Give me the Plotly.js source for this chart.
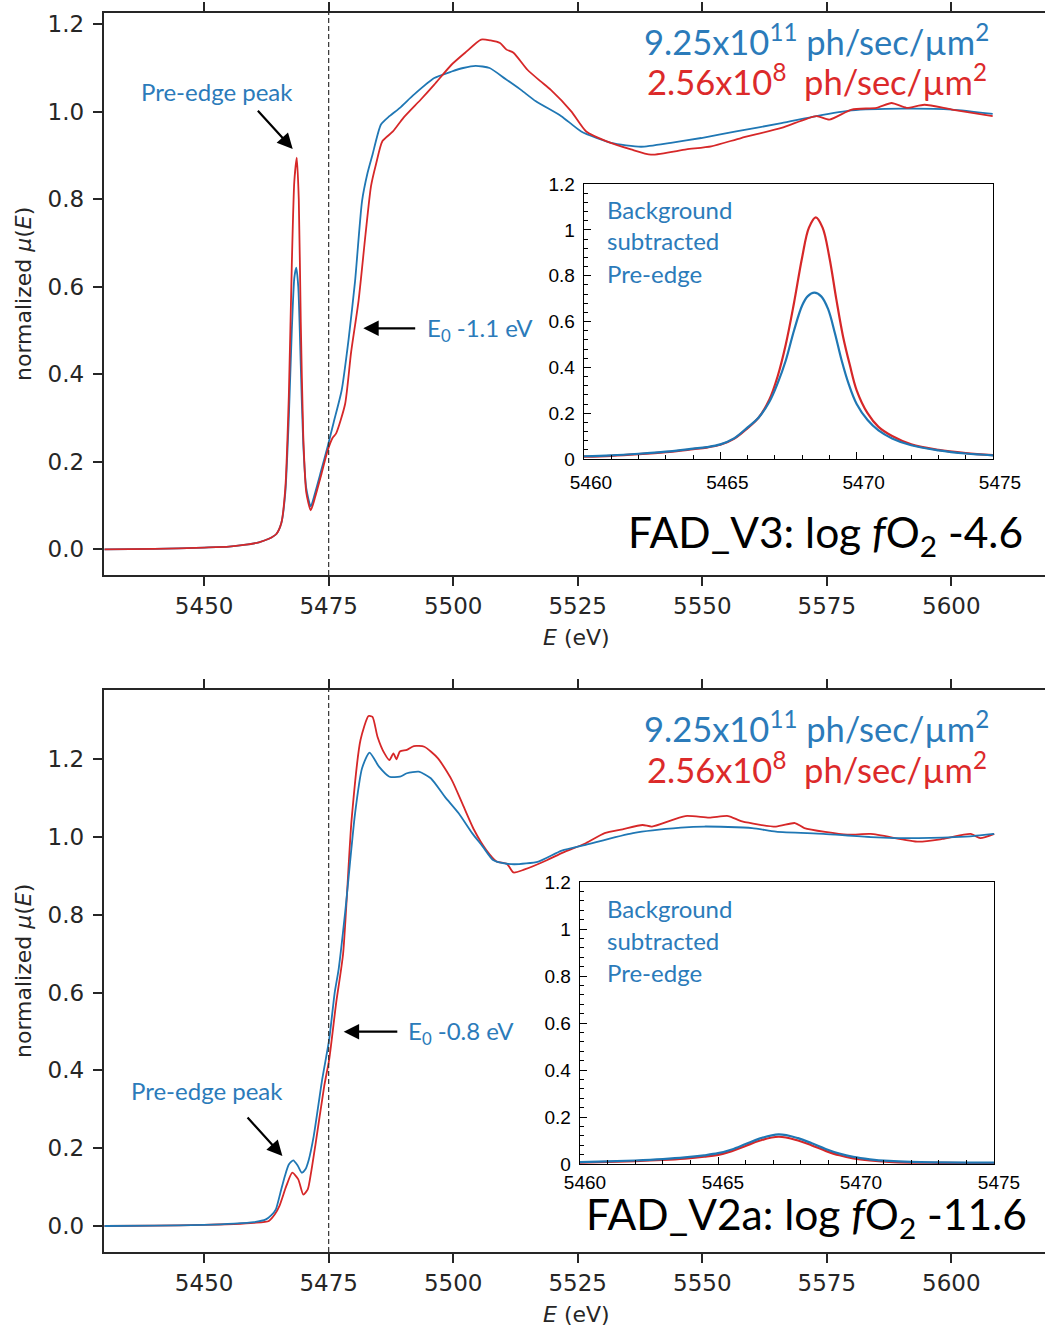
<!DOCTYPE html>
<html>
<head>
<meta charset="utf-8">
<script src="https://cdn.plot.ly/plotly-3.0.1.min.js"></script>
<style>html,body{margin:0;padding:0;background:#fff;}#plot{width:1045px;height:1329px;}</style>
</head>
<body>
<div id="plot"></div>
<script>
// ---------- DATA ----------
// Panel 1: FAD_V3, main spectrum
const v3BlueE  = [5430,5440,5450,5455,5458,5461,5463,5464.5,5465.5,5466.3,5467.0,5467.6,5468.1,5468.5,5468.9,5469.4,5469.9,5470.5,5471.4,5472.3,5473.5,5474.8,5476.0,5477.6,5479.0,5480.3,5481.7,5482.8,5483.8,5485.5,5487.2,5489.3,5492.1,5496.2,5499.7,5502.0,5504.5,5507.3,5510.5,5513.6,5516.6,5521.7,5525.7,5531.7,5537.7,5543.7,5549.8,5556.8,5565.9,5572.9,5580.0,5590.0,5600.1,5608.3];
const v3BlueMu = [0.0,0.001,0.004,0.006,0.010,0.016,0.024,0.035,0.06,0.13,0.30,0.50,0.62,0.644,0.60,0.42,0.24,0.14,0.098,0.13,0.18,0.235,0.29,0.363,0.48,0.613,0.796,0.86,0.902,0.971,0.99,1.009,1.039,1.077,1.092,1.10,1.105,1.10,1.075,1.05,1.024,0.99,0.955,0.929,0.92,0.929,0.94,0.955,0.974,0.99,1.003,1.007,1.005,0.995];
const v3RedE   = [5430,5440,5450,5455,5458,5461,5463,5464.5,5465.5,5466.3,5467.0,5467.6,5468.1,5468.6,5469.0,5469.4,5469.9,5470.5,5471.4,5472.3,5473.5,5474.8,5475.8,5476.5,5478.3,5479.5,5481.0,5482.4,5483.5,5484.5,5485.8,5487.9,5490.0,5493.5,5496.2,5499.7,5502.4,5505.6,5507.5,5509.4,5510.7,5512.1,5514.9,5517.5,5519.6,5523.7,5526.7,5530.7,5535.7,5539.7,5546.8,5551.8,5557.8,5565.9,5572.9,5575.5,5580.0,5585.0,5588.0,5591.0,5594.6,5600.1,5608.3];
const v3RedMu  = [0.0,0.001,0.004,0.006,0.010,0.016,0.024,0.035,0.06,0.14,0.35,0.65,0.84,0.895,0.80,0.52,0.26,0.13,0.089,0.12,0.17,0.226,0.255,0.265,0.332,0.45,0.568,0.72,0.83,0.88,0.933,0.955,0.986,1.028,1.062,1.108,1.135,1.165,1.163,1.157,1.142,1.135,1.096,1.07,1.05,1.001,0.955,0.933,0.914,0.902,0.914,0.921,0.94,0.963,0.99,0.982,1.005,1.009,1.02,1.009,1.016,1.005,0.99];

// Panel 1 inset: background-subtracted pre-edge
const v3InsBlueE  = [5460,5461,5462,5463,5464,5464.5,5465,5465.5,5466,5466.4,5466.8,5467.1,5467.4,5467.7,5468.0,5468.2,5468.45,5468.7,5468.95,5469.2,5469.45,5469.7,5470.0,5470.4,5470.8,5471.3,5472,5473,5474,5475];
const v3InsBlueMu = [0.012,0.016,0.023,0.032,0.045,0.052,0.064,0.09,0.138,0.18,0.25,0.33,0.43,0.56,0.67,0.71,0.726,0.71,0.655,0.55,0.43,0.33,0.24,0.17,0.125,0.09,0.06,0.038,0.024,0.016];
const v3InsRedE   = [5460,5461,5462,5463,5464,5464.5,5465,5465.5,5466,5466.4,5466.8,5467.1,5467.4,5467.7,5468.0,5468.25,5468.5,5468.75,5469.0,5469.25,5469.5,5469.75,5470.0,5470.4,5470.8,5471.3,5472,5473,5474,5475];
const v3InsRedMu  = [0.010,0.014,0.021,0.030,0.043,0.050,0.062,0.088,0.135,0.18,0.26,0.36,0.50,0.68,0.88,1.01,1.055,1.01,0.88,0.70,0.535,0.41,0.30,0.20,0.14,0.10,0.064,0.04,0.026,0.017];

// Panel 2: FAD_V2a, main spectrum
const v2BlueE  = [5430,5440,5450,5456,5460,5462.4,5463.5,5464.4,5465.3,5466.2,5467.0,5467.9,5468.8,5469.6,5470.3,5471.0,5472.0,5473.7,5475.1,5476.2,5477.0,5478.3,5480.3,5481.7,5483.2,5485.1,5487.2,5489.3,5490.7,5493.1,5495.5,5498.3,5501.1,5503.8,5505.9,5508.0,5510.0,5512.3,5517.1,5521.8,5526.6,5536.1,5545.7,5550.4,5560.0,5564.8,5574.3,5583.8,5593.4,5602.9,5608.6];
const v2BlueMu = [0.0,0.001,0.003,0.006,0.010,0.017,0.028,0.043,0.085,0.128,0.158,0.169,0.155,0.137,0.145,0.17,0.231,0.377,0.479,0.599,0.66,0.805,1.061,1.177,1.217,1.181,1.155,1.155,1.164,1.168,1.151,1.104,1.061,1.01,0.976,0.941,0.933,0.93,0.937,0.965,0.98,1.01,1.024,1.027,1.023,1.014,1.008,1.0,0.997,1.001,1.008];
const v2RedE   = [5430,5440,5450,5456,5460,5463.0,5464.2,5465.1,5466.5,5467.7,5468.9,5469.9,5470.8,5471.5,5472.3,5474.1,5475.1,5476.5,5477.9,5479.6,5481.4,5483.0,5483.8,5484.8,5486.2,5487.2,5488.0,5488.6,5489.3,5490.7,5492.1,5494.2,5496.9,5499.7,5501.8,5504.2,5506.6,5508.7,5510.8,5512.1,5514.2,5518.9,5522.0,5526.6,5530.4,5534.0,5538.0,5539.9,5546.6,5551.4,5555.2,5558.0,5564.8,5568.6,5570.5,5579.1,5583.8,5593.4,5598.2,5603.9,5605.8,5608.6];
const v2RedMu  = [0.0,0.001,0.003,0.005,0.008,0.013,0.03,0.051,0.103,0.137,0.12,0.081,0.094,0.14,0.205,0.359,0.428,0.573,0.70,1.044,1.25,1.311,1.309,1.258,1.215,1.198,1.215,1.20,1.22,1.224,1.234,1.232,1.203,1.147,1.087,1.018,0.967,0.937,0.931,0.909,0.916,0.941,0.96,0.984,1.01,1.02,1.031,1.027,1.054,1.05,1.054,1.04,1.027,1.036,1.023,1.006,1.008,0.988,0.995,1.008,0.997,1.008];

// Panel 2 inset
const v2InsE      = [5460,5461,5462,5463,5463.8,5464.5,5465,5465.5,5466,5466.5,5467.2,5467.9,5468.4,5468.9,5469.4,5469.9,5470.5,5471.2,5472,5473,5474,5475];
const v2InsBlueMu = [0.008,0.011,0.015,0.021,0.028,0.037,0.046,0.062,0.085,0.108,0.126,0.11,0.088,0.064,0.044,0.03,0.02,0.013,0.009,0.007,0.006,0.006];
const v2InsRedMu  = [0.006,0.009,0.012,0.017,0.023,0.031,0.039,0.055,0.077,0.099,0.116,0.10,0.079,0.056,0.037,0.024,0.015,0.009,0.006,0.005,0.004,0.004];

// Tick labels / texts
const mainXTicks = [5450,5475,5500,5525,5550,5575,5600];
const mainYTicks = [0.0,0.2,0.4,0.6,0.8,1.0,1.2];
const insetXTicks = [5460,5465,5470,5475];
const fluxHigh = '9.25x10<sup>11</sup> ph/sec/\u00B5m<sup>2</sup>';
const fluxLow  = '2.56x10<sup>8</sup>\u00A0 ph/sec/\u00B5m<sup>2</sup>';
const titleV3  = 'FAD_V3: log <i>f</i>O<sub>2</sub> -4.6';
const titleV2  = 'FAD_V2a: log <i>f</i>O<sub>2</sub> -11.6';
const e0V3 = 'E<sub>0</sub> -1.1 eV';
const e0V2 = 'E<sub>0</sub> -0.8 eV';

// ---------- STYLE ----------
const W = 1045, H = 1329;
const BLUE = '#1f77b4', RED = '#d62728';
const TBLUE = '#2b7bba', TRED = '#dc2a2a';
const AX = '#262626';
const px = x => x / W;
const py = y => 1 - y / H;

function line(x, y, color, xa, ya, w, sm) {
  return {x: x, y: y, type: 'scatter', mode: 'lines', xaxis: xa, yaxis: ya,
          line: {color: color, width: w, shape: 'spline', smoothing: sm}, hoverinfo: 'skip', showlegend: false};
}

const data = [
  line(v3BlueE, v3BlueMu, BLUE, 'x', 'y', 1.8, 0.6),
  line(v3RedE, v3RedMu, RED, 'x', 'y', 1.8, 0.6),
  line(v3InsRedE, v3InsRedMu, RED, 'x2', 'y2', 2.2, 1.0),
  line(v3InsBlueE, v3InsBlueMu, BLUE, 'x2', 'y2', 2.2, 1.0),
  line(v2RedE, v2RedMu, RED, 'x3', 'y3', 1.8, 0.6),
  line(v2BlueE, v2BlueMu, BLUE, 'x3', 'y3', 1.8, 0.6),
  line(v2InsE, v2InsRedMu, RED, 'x4', 'y4', 2.2, 1.0),
  line(v2InsE, v2InsBlueMu, BLUE, 'x4', 'y4', 2.2, 1.0)
];

const tickFontMain = {family: 'DejaVu Sans', size: 23, color: AX};
const tickFontIns = {family: 'Liberation Sans', size: 19, color: '#000'};

function mainX(anchor, dom) {
  return {domain: dom, anchor: anchor, range: [5429.9, 5618.8], tickmode: 'array', tickvals: mainXTicks,
    ticktext: mainXTicks.map(String), ticks: 'outside', ticklen: 9, tickwidth: 2, tickcolor: AX,
    showline: true, linewidth: 2.2, linecolor: AX, mirror: 'ticks', showgrid: false, zeroline: false,
    tickfont: tickFontMain, ticklabelstandoff: 0};
}
function mainY(anchor, dom, rng) {
  return {domain: dom, anchor: anchor, range: rng, tickmode: 'array', tickvals: mainYTicks,
    ticktext: mainYTicks.map(v => v.toFixed(1)), ticks: 'outside', ticklen: 9, tickwidth: 2, tickcolor: AX,
    showline: true, linewidth: 2.2, linecolor: AX, mirror: false, showgrid: false, zeroline: false,
    tickfont: tickFontMain, ticklabelstandoff: 4};
}
function insX(anchor, dom, standoff, shift) {
  return {domain: dom, anchor: anchor, range: [5460, 5475], tickmode: 'array', tickvals: insetXTicks,
    ticktext: insetXTicks.map(String), ticks: 'inside', ticklen: 7, tickwidth: 1, tickcolor: '#000',
    minor: {ticks: 'inside', ticklen: 4, dtick: 1, tick0: 5460, tickcolor: '#000', tickwidth: 1},
    showline: true, linewidth: 1.3, linecolor: '#000', mirror: true, showgrid: false, zeroline: false,
    tickfont: tickFontIns, ticklabelstandoff: standoff, ticklabelshift: shift};
}
function insY(anchor, dom) {
  return {domain: dom, anchor: anchor, range: [0, 1.2005], tick0: 0, dtick: 0.2, ticks: 'inside', ticklen: 7,
    tickwidth: 1, tickcolor: '#000',
    minor: {ticks: 'inside', ticklen: 4, dtick: 0.04, tick0: 0, tickcolor: '#000', tickwidth: 1},
    showline: true, linewidth: 1.3, linecolor: '#000', mirror: true, showgrid: false, zeroline: false,
    tickfont: tickFontIns, ticklabelstandoff: 4};
}

const lato = (size, color) => ({family: 'Lato, "Open Sans", sans-serif', size: size, color: color});

function txt(text, x, y, xanchor, font) {
  return {text: text, xref: 'paper', yref: 'paper', x: px(x), y: py(y), xanchor: xanchor, yanchor: 'middle',
          showarrow: false, font: font};
}
function arrow(hx, hy, tx, ty) {
  return {text: '', xref: 'paper', yref: 'paper', x: px(hx), y: py(hy), ax: tx - hx, ay: ty - hy,
          showarrow: true, arrowhead: 2, arrowsize: 1.4, arrowwidth: 2.2, arrowcolor: '#000', standoff: 0};
}

const annotations = [
  // panel 1
  txt(fluxHigh, 991, 39, 'right', lato(34.5, TBLUE)),
  txt(fluxLow, 989, 80, 'right', lato(34.5, TRED)),
  txt('Pre-edge peak', 217, 92, 'center', lato(24, TBLUE)),
  arrow(292.7, 149, 256.5, 109.3),
  txt(e0V3, 425, 329, 'left', lato(24, TBLUE)),
  arrow(363.3, 328.3, 416.7, 328.3),
  txt('Background', 605, 209, 'left', lato(24, TBLUE)),
  txt('subtracted', 605, 241, 'left', lato(24, TBLUE)),
  txt('Pre-edge', 605, 273, 'left', lato(24, TBLUE)),
  txt(titleV3, 1025, 534, 'right', lato(42.5, '#000')),
  txt('<i>E</i> (eV)', 576, 637, 'center', {family: 'DejaVu Sans', size: 22, color: AX}),
  {text: 'normalized <i>\u03BC</i>(<i>E</i>)', xref: 'paper', yref: 'paper', x: px(23), y: py(294), textangle: -90,
   xanchor: 'center', yanchor: 'middle', showarrow: false, font: {family: 'DejaVu Sans', size: 22, color: AX}},
  // panel 2
  txt(fluxHigh, 991, 726, 'right', lato(34.5, TBLUE)),
  txt(fluxLow, 989, 768, 'right', lato(34.5, TRED)),
  txt('Pre-edge peak', 207, 1090, 'center', lato(24, TBLUE)),
  arrow(282.4, 1156, 246.2, 1116),
  txt(e0V2, 406, 1032, 'left', lato(24, TBLUE)),
  arrow(343.7, 1031.7, 398.8, 1031.7),
  txt('Background', 605, 908, 'left', lato(24, TBLUE)),
  txt('subtracted', 605, 940, 'left', lato(24, TBLUE)),
  txt('Pre-edge', 605, 972, 'left', lato(24, TBLUE)),
  txt(titleV2, 1029, 1216, 'right', lato(42.5, '#000')),
  txt('<i>E</i> (eV)', 576, 1314, 'center', {family: 'DejaVu Sans', size: 22, color: AX}),
  {text: 'normalized <i>\u03BC</i>(<i>E</i>)', xref: 'paper', yref: 'paper', x: px(23), y: py(971), textangle: -90,
   xanchor: 'center', yanchor: 'middle', showarrow: false, font: {family: 'DejaVu Sans', size: 22, color: AX}}
];

const shapes = [
  {type: 'line', xref: 'x', yref: 'y domain', x0: 5475, x1: 5475, y0: 0, y1: 1,
   line: {color: '#333', width: 1.2, dash: '5px,3px'}},
  {type: 'line', xref: 'x3', yref: 'y3 domain', x0: 5475, x1: 5475, y0: 0, y1: 1,
   line: {color: '#333', width: 1.2, dash: '5px,3px'}}
];

const layout = {
  width: W, height: H, margin: {l: 0, r: 0, t: 0, b: 0}, paper_bgcolor: '#fff', plot_bgcolor: '#fff',
  showlegend: false,
  xaxis: mainX('y', [px(104), 1]),
  yaxis: mainY('x', [py(575), py(13)], [-0.0587, 1.2257]),
  xaxis2: insX('y2', [px(584), px(993)], 6, 7),
  yaxis2: insY('x2', [py(459), py(184)]),
  xaxis3: mainX('y3', [px(104), 1]),
  yaxis3: mainY('x3', [py(1252), py(690)], [-0.0668, 1.378]),
  xaxis4: insX('y4', [px(580), px(994)], 1, 5),
  yaxis4: insY('x4', [py(1164), py(882)]),
  annotations: annotations,
  shapes: shapes
};

Plotly.newPlot('plot', data, layout, {staticPlot: true, displayModeBar: false});
</script>
</body>
</html>
